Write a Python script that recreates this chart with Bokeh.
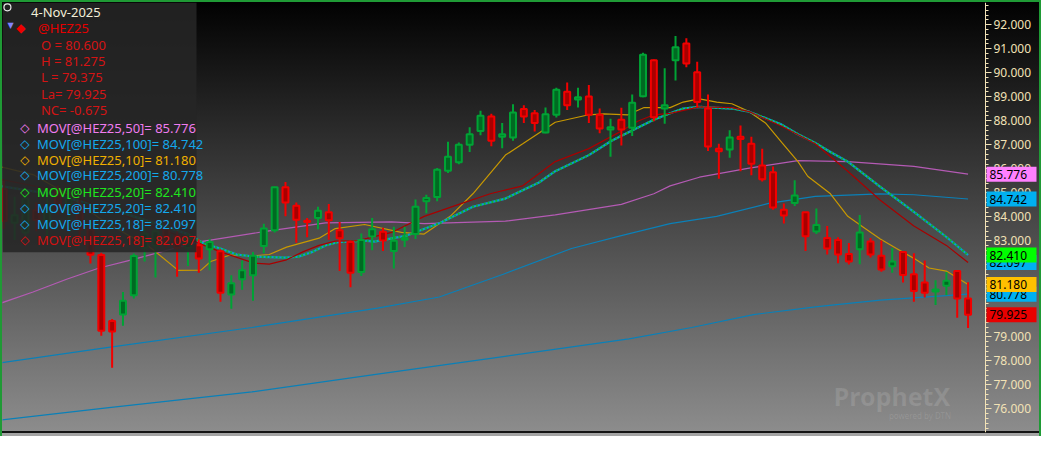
from bokeh.plotting import figure
from bokeh.models import (ColumnDataSource, LinearAxis, Range1d, NumeralTickFormatter,
                          SingleIntervalTicker, BoxAnnotation, Label)
from bokeh.core.properties import value
from bokeh.embed import file_html
from bokeh.resources import INLINE

# ---------------- data ----------------
symbol = "@HEZ25"
as_of = "4-Nov-2025"

bar_open = [85.16, 83.75, 83.35, 84.27, 83.60, 85.04, 84.30, 84.47, 83.47, 82.41,
            79.66, 79.93, 80.73, 82.70, 82.80, 83.50, 83.20, 82.70, 82.82, 82.65,
            82.57, 80.77, 81.40, 81.57, 82.78, 83.44, 85.23, 84.46, 83.84, 83.95,
            84.19, 83.44, 82.95, 81.70, 83.18, 83.38, 82.58, 83.05, 83.28, 84.65,
            84.83, 85.92, 86.27, 87.00, 87.57, 88.18, 87.33, 87.30, 88.49, 88.31,
            87.51, 88.25, 89.21, 88.89, 89.01, 88.25, 87.64, 88.04, 87.71, 89.02,
            90.52, 88.51, 90.52, 91.22, 90.02, 88.51, 86.84, 86.80, 87.33, 87.04,
            86.14, 85.86, 84.29, 84.58, 84.19, 83.39, 83.12, 83.04, 82.45, 82.65,
            82.97, 82.38, 81.94, 82.54, 81.61, 81.27, 80.89, 81.13, 81.74, 80.600]
bar_high = [85.50, 84.84, 85.00, 84.60, 84.84, 85.30, 85.10, 84.70, 83.70, 82.50,
            79.75, 80.87, 82.47, 83.50, 83.60, 83.70, 83.40, 83.30, 83.07, 83.08,
            82.65, 81.57, 82.18, 82.54, 83.71, 85.25, 85.45, 84.60, 83.95, 84.42,
            84.53, 83.78, 83.01, 83.31, 83.95, 83.55, 83.59, 83.59, 84.72, 84.92,
            86.03, 87.13, 87.10, 87.73, 88.42, 88.29, 87.91, 88.69, 88.65, 88.45,
            88.55, 89.38, 89.59, 89.38, 89.49, 88.51, 88.08, 88.54, 89.09, 90.83,
            90.55, 90.19, 91.53, 91.44, 90.46, 89.09, 87.04, 87.61, 87.80, 87.33,
            86.84, 86.10, 84.56, 85.52, 84.20, 84.35, 83.62, 83.15, 82.91, 84.08,
            83.12, 83.01, 82.70, 82.57, 82.48, 82.18, 81.36, 81.70, 81.77, 81.275]
bar_low = [83.50, 83.03, 83.20, 83.40, 83.07, 84.10, 83.90, 83.20, 82.06, 79.05,
           77.71, 79.46, 80.60, 82.14, 81.47, 82.70, 81.50, 81.95, 81.67, 81.77,
           80.46, 80.17, 80.96, 80.50, 82.48, 83.35, 84.02, 82.92, 83.15, 83.48,
           83.05, 81.74, 81.07, 81.54, 82.61, 82.58, 81.85, 82.74, 83.08, 84.15,
           84.65, 85.83, 86.19, 86.70, 87.40, 86.94, 86.86, 87.17, 87.91, 87.55,
           87.48, 88.14, 88.45, 88.55, 87.91, 87.48, 86.50, 86.97, 87.37, 88.98,
           87.98, 87.88, 89.68, 90.23, 88.55, 86.74, 85.59, 86.46, 85.90, 85.73,
           85.47, 84.29, 83.72, 84.45, 82.58, 83.28, 82.43, 82.07, 82.01, 82.03,
           82.31, 81.71, 81.67, 81.27, 80.46, 80.64, 80.33, 80.73, 79.80, 79.375]
bar_close = [83.83, 84.07, 84.76, 83.87, 84.40, 84.43, 84.80, 83.47, 82.42, 79.26,
             79.22, 80.50, 82.37, 83.30, 83.40, 83.00, 82.70, 83.10, 82.26, 82.95,
             80.84, 81.23, 81.77, 82.38, 83.51, 85.23, 84.60, 83.88, 83.78, 84.25,
             83.86, 83.11, 81.67, 83.04, 83.48, 83.01, 83.00, 83.12, 84.42, 84.78,
             85.96, 86.50, 87.00, 87.44, 88.21, 87.17, 87.44, 88.35, 88.18, 87.91,
             88.27, 89.29, 88.65, 88.98, 88.25, 87.68, 87.73, 87.64, 88.75, 90.75,
             88.15, 88.65, 91.06, 90.39, 88.78, 86.93, 86.73, 87.30, 87.24, 86.21,
             85.56, 84.39, 84.06, 84.89, 83.19, 83.66, 82.68, 82.43, 82.14, 83.35,
             82.43, 81.81, 82.14, 81.58, 80.91, 80.84, 80.97, 81.34, 80.60, 79.925]

# moving averages, read at bar positions (bar index, price)
ma200_x = [-0.3, 9.5, 22.9, 34.5, 46.1, 57.7, 63.5, 69.2, 75.1, 80.9, 89.0]
ma200_y = [75.54, 76.04, 76.71, 77.45, 78.18, 78.92, 79.39, 79.93, 80.26, 80.53, 80.778]

ma100_x = [-0.3, 9.5, 22.9, 34.5, 40.2, 46.1, 52.4, 57.0, 61.5, 65.8, 70.6, 74.9, 80.9, 84.0, 89.0]
ma100_y = [77.92, 78.55, 79.39, 80.20, 80.66, 81.61, 82.68, 83.22, 83.72, 84.02, 84.56, 84.85,
           84.96, 84.92, 84.742]

ma50_x = [-0.3, 2.7, 5.8, 8.8, 11.8, 17.9, 24.0, 29.7, 35.8, 38.8, 46.3, 50.9, 57.0, 60.0,
          61.5, 64.2, 68.8, 73.3, 77.9, 84.0, 89.0]
ma50_y = [80.40, 80.87, 81.40, 81.87, 82.21, 82.95, 83.38, 83.75, 83.79, 83.72, 83.82, 84.08,
          84.52, 84.96, 85.29, 85.65, 86.03, 86.34, 86.30, 86.10, 85.776]

ma10_x = [-0.3, 2.7, 5.8, 8.8, 11.5, 13.1, 16.1, 18.2, 19.1, 20.9, 23.1, 24.5, 26.1, 29.1,
          30.6, 33.3, 36.7, 38.8, 41.2, 43.3, 46.3, 47.9, 50.9, 54.0, 55.4, 57.6, 59.1, 61.5,
          62.7, 64.2, 65.8, 67.2, 68.8, 70.3, 71.8, 73.3, 74.2, 76.3, 77.9, 79.4, 80.9, 82.4,
          84.0, 85.4, 87.0, 89.0]
ma10_y = [86.08, 85.76, 84.96, 83.95, 83.23, 82.88, 81.77, 81.78, 82.14, 82.41, 82.38, 82.43,
          82.74, 83.11, 83.51, 83.68, 83.35, 83.28, 84.02, 84.96, 86.57, 87.04, 87.94, 88.25,
          88.29, 88.25, 88.55, 88.55, 88.78, 88.91, 88.78, 88.71, 88.38, 87.91, 87.10, 86.30,
          85.69, 84.96, 84.02, 83.55, 83.08, 82.68, 82.27, 81.87, 81.74, 81.18]

ma20_x = [-0.3, 4.2, 8.8, 13.3, 17.0, 18.5, 20.0, 21.5, 23.1, 26.1, 27.2, 28.5, 29.7, 30.9,
          33.3, 34.2, 37.2, 40.3, 43.3, 46.3, 49.4, 50.9, 54.0, 56.1, 58.5, 60.0, 61.5, 62.7,
          64.2, 67.2, 68.8, 71.8, 73.3, 74.9, 76.3, 77.9, 80.9, 84.0, 87.0, 89.0]
ma20_y = [85.28, 84.96, 84.47, 83.83, 83.28, 82.88, 82.68, 82.43, 82.34, 82.30, 82.34, 82.54,
          82.81, 82.95, 83.01, 82.97, 83.22, 83.75, 84.42, 84.76, 85.43, 85.90, 86.57, 87.17,
          87.71, 88.04, 88.31, 88.51, 88.58, 88.51, 88.38, 87.84, 87.44, 87.08, 86.70, 86.30,
          85.25, 84.21, 83.16, 82.41]

ma18_x = [-0.3, 4.2, 8.8, 13.3, 17.0, 20.0, 23.1, 24.5, 26.1, 27.6, 29.1, 30.6, 32.7, 35.8,
          38.8, 41.8, 44.9, 47.9, 50.9, 54.0, 57.0, 58.5, 60.0, 61.5, 64.2, 67.2, 68.8, 71.8,
          74.9, 77.9, 80.9, 84.0, 87.0, 89.0]
ma18_y = [85.56, 85.16, 84.47, 83.67, 83.08, 82.54, 82.07, 82.03, 82.21, 82.54, 82.81, 82.99,
          83.01, 83.35, 84.02, 84.49, 84.96, 85.29, 86.30, 86.84, 87.57, 87.98, 88.25, 88.31,
          88.58, 88.55, 88.38, 87.77, 87.04, 85.90, 84.69, 83.62, 82.81, 82.097]

# study legend: (period, text colour, last value)
study_periods = [50, 100, 10, 200, 20, 20, 18, 18]
study_colors = ["#f07cf0", "#14a8ec", "#f0b000", "#14a8ec", "#1ee61e", "#14a8ec", "#14a8ec", "#d41010"]
study_values = [ma50_y[-1], ma100_y[-1], ma10_y[-1], ma200_y[-1], ma20_y[-1], ma20_y[-1],
                ma18_y[-1], ma18_y[-1]]

# price flags on the right axis (drawn in this order)
flag_values = [ma50_y[-1], ma100_y[-1], ma18_y[-1], ma20_y[-1], ma200_y[-1], ma10_y[-1], bar_close[-1]]
flag_colors = ["#ff80ff", "#00b0f0", "#00b0f0", "#00ff00", "#00b0f0", "#ffc000", "#e80000"]

# ---------------- layout ----------------
W, H = 1041, 436
DATA_W = 983          # px of the data region
AXIS_W = 52           # px of the price-axis strip (inside the frame)
BL, BT, BB = 2, 2, 4
BR = W - BL - DATA_W - AXIS_W
X0, X1 = -0.118, 90.61
Y0, Y1 = 75.018, 92.926
DPP = (X1 - X0) / DATA_W           # data units per pixel along x
X1E = X1 + AXIS_W * DPP            # frame extends over the axis strip

# reference-pixel helpers for UI overlay placement
RFL, RFR, RFT, RFB = 2.0, 1000.0, 2.0, 447.0
def xd(rx):
    return X0 + (rx - RFL) / (RFR - RFL) * (X1 - X0)
def yd(ry):
    return Y1 - (ry - RFT) / (RFB - RFT) * (Y1 - Y0)

p = figure(width=W, height=H, output_backend="svg", toolbar_location=None,
           x_range=Range1d(X0, X1E), y_range=Range1d(Y0, Y1),
           x_axis_location=None, y_axis_location=None,
           min_border_left=BL, min_border_right=BR, min_border_top=BT, min_border_bottom=BB)
p.background_fill_alpha = 0
p.border_fill_alpha = 0
p.outline_line_color = None
p.grid.visible = False
p.styles = {
    "background": "linear-gradient(to bottom, #000000 0px, #040404 10px, #8c8c8c 431px, "
                  "#141414 431px, #141414 433px, #a4a4a4 433px, #a4a4a4 436px)",
    "box-shadow": "inset 2px 2px 0 0 #1f9a35, inset -2px 0 0 0 #1f9a35",
}

AX = "#f2e2b6"
yaxis = LinearAxis(ticker=SingleIntervalTicker(interval=1, num_minor_ticks=5),
                   formatter=NumeralTickFormatter(format="0.000"), fixed_location=X1)
yaxis.axis_line_color = AX
yaxis.major_tick_line_color = AX
yaxis.minor_tick_line_color = AX
yaxis.major_tick_out = 6
yaxis.major_tick_in = 0
yaxis.minor_tick_out = 3
yaxis.minor_tick_in = 0
yaxis.major_label_standoff = 2
yaxis.major_label_text_color = AX
yaxis.major_label_text_font = "Noto Sans"
yaxis.major_label_text_font_size = "12px"
p.add_layout(yaxis, "right")

# moving average lines
p.line(ma200_x, ma200_y, line_color="#0a80b8", line_width=1.2)
p.line(ma100_x, ma100_y, line_color="#0a80b8", line_width=1.2)
p.line(ma50_x, ma50_y, line_color="#b45ab4", line_width=1.2)
p.line(ma10_x, ma10_y, line_color="#c89800", line_width=1.2)
p.line(ma20_x, ma20_y, line_color="#0a9ad8", line_width=2.2)
p.line(ma20_x, ma20_y, line_color="#10b030", line_width=2.2, line_dash="2 2")
p.line(ma18_x, ma18_y, line_color="#a80000", line_width=1.2)

# candles
idx = list(range(len(bar_open)))
up = [c >= o for o, c in zip(bar_open, bar_close)]
src = ColumnDataSource(dict(
    i=idx, h=bar_high, l=bar_low,
    top=[max(o, c) for o, c in zip(bar_open, bar_close)],
    bot=[min(o, c) for o, c in zip(bar_open, bar_close)],
    edge=["#00a335" if u else "#f20000" for u in up],
    fill=["#006a22" if u else "#a80000" for u in up],
))
p.segment(x0="i", y0="h", x1="i", y1="l", line_color="edge", line_width=2, source=src)
p.vbar(x="i", width=0.55, top="top", bottom="bot", fill_color="fill", line_color="edge",
       line_width=2, source=src)

# watermark
p.add_layout(Label(x=xd(846), y=yd(409), text="ProphetX", text_font="Noto Sans",
                   text_font_size="25px", text_font_style="bold", text_color="#ffffff",
                   text_alpha=0.12, text_baseline="middle", text_align="left"))
p.add_layout(Label(x=xd(965), y=yd(429), text="powered by DTN", text_font="Noto Sans",
                   text_font_size="8px", text_color="#ffffff", text_alpha=0.12,
                   text_baseline="middle", text_align="right"))

# legend panel
p.add_layout(BoxAnnotation(left=X0, right=xd(199), top=Y1, bottom=yd(260.5),
                           fill_color="#262626", fill_alpha=0.88, line_color=None))

last_o, last_h, last_l, last_c = bar_open[-1], bar_high[-1], bar_low[-1], bar_close[-1]
net = last_c - bar_close[-2]
leg_text = [as_of, symbol, f"O = {last_o:.3f}", f"H = {last_h:.3f}", f"L = {last_l:.3f}",
            f"La= {last_c:.3f}", f"NC= {net:.3f}"]
leg_text += [f"MOV[{symbol},{n}]= {v:.3f}" for n, v in zip(study_periods, study_values)]
leg_color = ["#f2eed8", "#e60000"] + ["#d41414"] * 5 + study_colors
row_y = [11.5, 28.7, 45.7, 62.3, 79.0, 96.7, 113.3, 131.5, 148.0, 164.5, 181.0, 198.0,
         214.5, 231.0, 248.0]
row_x = [31, 38, 41, 41, 41, 41, 41] + [37] * len(study_periods)
lsrc = ColumnDataSource(dict(x=[xd(v) for v in row_x], y=[yd(v) for v in row_y],
                             t=leg_text, c=leg_color))
p.text(x="x", y="y", text="t", text_color="c", source=lsrc, text_font=value("Noto Sans"),
       text_font_size="13px", text_baseline="middle", text_align="left", level="overlay")

sym_x = [7, 16] + [20] * len(study_periods)
sym_y = [26.0, 28.5] + row_y[7:]
sym_t = ["\u25bc", "\u25c6"] + ["\u25c7"] * len(study_periods)
sym_s = ["8px", "12px"] + ["12px"] * len(study_periods)
sym_c = ["#8282ff", "#ee0000"] + study_colors
ssrc = ColumnDataSource(dict(x=[xd(v) for v in sym_x], y=[yd(v) for v in sym_y],
                             t=sym_t, c=sym_c, s=sym_s))
p.text(x="x", y="y", text="t", text_color="c", text_font_size="s", source=ssrc,
       text_font=value("DejaVu Sans"), text_baseline="middle", text_align="left",
       level="overlay")
p.scatter(x=[xd(7)], y=[yd(7)], size=7, marker="circle", fill_color=None,
          line_color="#e8e8e8", line_width=1.2, level="overlay")

# price flags on the axis strip (each flag drawn box-then-text, in order)
FLAG_W = 50
for v, col in zip(flag_values, flag_colors):
    p.rect(x=[X1 + (1 + FLAG_W / 2) * DPP], y=[v], width=FLAG_W, height=15,
           width_units="screen", height_units="screen", fill_color=col, line_color=None,
           level="overlay")
    p.text(x=[X1 + 4 * DPP], y=[v], text=[f"{v:.3f}"], text_color="#000000",
           text_font=value("Noto Sans"), text_font_size="12px", text_baseline="middle",
           text_align="left", level="overlay")

open("out.html", "w").write(file_html(p, INLINE))
